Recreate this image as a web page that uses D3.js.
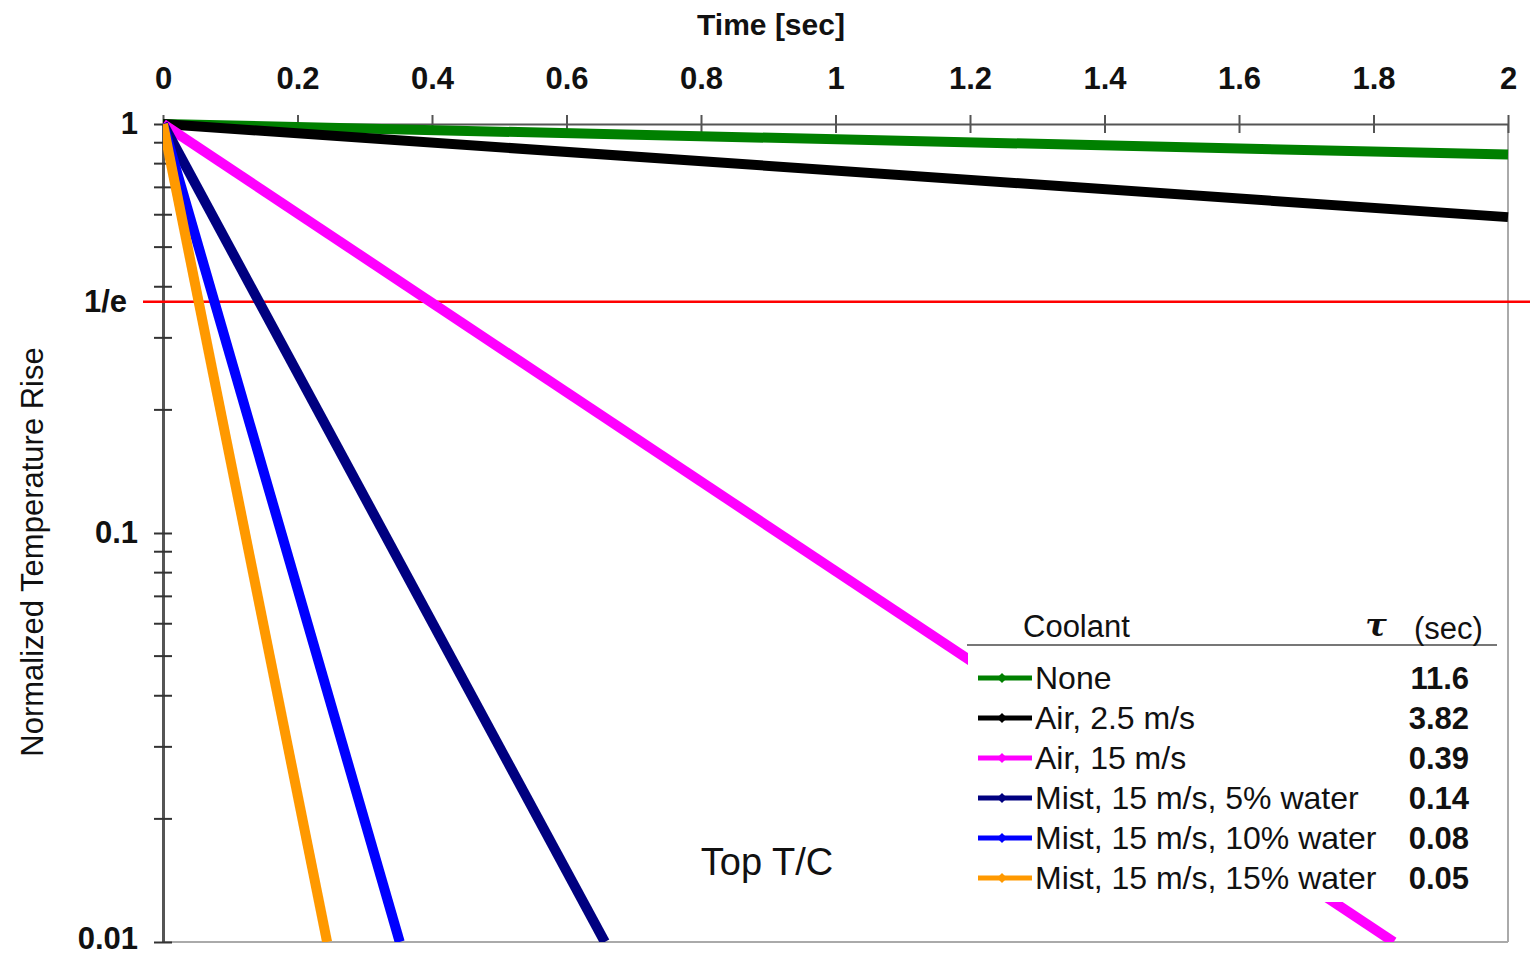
<!DOCTYPE html>
<html>
<head>
<meta charset="utf-8">
<script src="https://cdn.jsdelivr.net/npm/d3@7"></script>
<style>
  body { margin: 0; background: #fff; }
  text { font-family: Arial, "Liberation Sans", sans-serif; }
</style>
</head>
<body>
<script>
// coolant names, time constants and line endpoints
const coolants = ["None", "Air, 2.5 m/s", "Air, 15 m/s", "Mist, 15 m/s, 5% water", "Mist, 15 m/s, 10% water", "Mist, 15 m/s, 15% water"]
const tauLabels = ["11.6", "3.82", "0.39", "0.14", "0.08", "0.05"]
const colors = ["#008000", "#000000", "#ff00ff", "#000080", "#0000ff", "#ff9900"]
const endTimes = [2, 2, 1.83, 0.657, 0.352, 0.244]
const endValues = [0.842, 0.592, 0.01, 0.01, 0.01, 0.01]
const xTicks = [0, 0.2, 0.4, 0.6, 0.8, 1, 1.2, 1.4, 1.6, 1.8, 2]
const yMajor = [1, 0.1, 0.01]
const invE = 1 / Math.E

const width = 1530, height = 955
const plotL = 163, plotR = 1508, plotT = 124, plotB = 942

const svg = d3.select("body").append("svg")
    .attr("width", width)
    .attr("height", height)

const x = d3.scaleLinear().domain([0, 2]).range([plotL, plotR])
const y = d3.scaleLog().domain([0.01, 1]).range([plotB, plotT])

// light frame on right and bottom
svg.append("line")
    .attr("x1", plotR).attr("x2", plotR).attr("y1", plotT).attr("y2", plotB)
    .attr("stroke", "#aaa").attr("stroke-width", 2)
svg.append("line")
    .attr("x1", plotL).attr("x2", plotR).attr("y1", plotB).attr("y2", plotB)
    .attr("stroke", "#aaa").attr("stroke-width", 2)

// minor log ticks
let minor = []
for (let d = 0.01; d < 1; d *= 10) {
    for (let k = 2; k <= 9; k++) minor.push(d * k)
}

const xAxis = svg.append("g")
    .attr("transform", `translate(0,${plotT})`)
    .call(d3.axisTop(x).tickValues(xTicks).tickSize(0).tickFormat(d3.format("")))
xAxis.select(".domain").attr("stroke", "#555").attr("stroke-width", 2)
xAxis.selectAll(".tick text")
    .attr("y", -46).attr("dy", "0.35em")
    .style("font-size", "31px").style("font-weight", "bold").attr("fill", "#111")
xAxis.selectAll(".tick").append("line")
    .attr("y1", -9).attr("y2", 9).attr("stroke", "#555").attr("stroke-width", 2)

const yAxis = svg.append("g")
    .attr("transform", `translate(${plotL},0)`)
    .call(d3.axisLeft(y).tickValues(yMajor).tickSize(0).tickFormat(d => d === 1 ? "1" : d3.format("")(d)))
yAxis.select(".domain").attr("stroke", "#555").attr("stroke-width", 3)
yAxis.selectAll(".tick text")
    .attr("x", -25)
    .attr("dy", d => d === 0.01 ? "0.2em" : "0.32em")
    .style("font-size", "31px").style("font-weight", "bold").attr("fill", "#111")
yAxis.selectAll(".tick").append("line")
    .attr("x1", -9).attr("x2", 9).attr("stroke", "#333").attr("stroke-width", 2)
yAxis.selectAll(".minor")
    .data(minor)
    .enter()
    .append("line")
    .attr("x1", -9).attr("x2", 9)
    .attr("y1", d => y(d)).attr("y2", d => y(d))
    .attr("stroke", "#333").attr("stroke-width", 2)

svg.append("text")
    .attr("x", plotL - 36).attr("y", y(invE)).attr("dy", "0.35em")
    .attr("text-anchor", "end")
    .style("font-size", "31px").style("font-weight", "bold").attr("fill", "#111")
    .text("1/e")

// axis titles
svg.append("text")
    .attr("x", 771).attr("y", 35)
    .attr("text-anchor", "middle")
    .style("font-size", "30px").style("font-weight", "bold").attr("fill", "#111")
    .text("Time [sec]")
svg.append("text")
    .attr("transform", "translate(43,552) rotate(-90)")
    .attr("text-anchor", "middle")
    .style("font-size", "31px").attr("fill", "#111")
    .text("Normalized Temperature Rise")

// 1/e reference line
svg.append("line")
    .attr("x1", 143).attr("x2", width)
    .attr("y1", y(invE)).attr("y2", y(invE))
    .attr("stroke", "#ff0000").attr("stroke-width", 2.5)

// decay curves
const series = coolants.map((c, i) => ({
    name: c,
    color: colors[i],
    points: [[0, 1], [endTimes[i], endValues[i]]]
}))

const line = d3.line().x(d => x(d[0])).y(d => y(d[1]))

svg.append("clipPath").attr("id", "clip")
    .append("rect").attr("x", plotL).attr("y", plotT - 8).attr("width", plotR - plotL + 8).attr("height", plotB - plotT + 8)

svg.append("g")
    .attr("clip-path", "url(#clip)")
    .selectAll("path")
    .data(series)
    .enter()
    .append("path")
    .attr("d", d => line(d.points))
    .attr("fill", "none")
    .attr("stroke", d => d.color)
    .attr("stroke-width", 10)

svg.append("text")
    .attr("x", 767).attr("y", 875)
    .attr("text-anchor", "middle")
    .style("font-size", "38px").attr("fill", "#111")
    .text("Top T/C")

// legend table
const lg = svg.append("g")
lg.append("rect")
    .attr("x", 968).attr("y", 652).attr("width", 532).attr("height", 250)
    .attr("fill", "#fff")
lg.append("line")
    .attr("x1", 967).attr("x2", 1497).attr("y1", 645).attr("y2", 645)
    .attr("stroke", "#777").attr("stroke-width", 2)
lg.append("text")
    .attr("x", 1023).attr("y", 637)
    .style("font-size", "31px").attr("fill", "#111")
    .text("Coolant")
lg.append("text")
    .attr("x", 1376).attr("y", 636)
    .attr("text-anchor", "middle")
    .style("font-size", "32px").style("font-style", "italic").style("font-weight", "bold")
    .style("font-family", "'DejaVu Serif', serif").attr("fill", "#111")
    .text("τ")
lg.append("text")
    .attr("x", 1414).attr("y", 639)
    .style("font-size", "31px").attr("fill", "#111")
    .text("(sec)")

const rows = lg.selectAll(".row")
    .data(series)
    .enter()
    .append("g")
    .attr("transform", (d, i) => `translate(0,${678 + i * 40})`)
rows.append("line")
    .attr("x1", 978).attr("x2", 1032)
    .attr("stroke", d => d.color).attr("stroke-width", 5)
rows.append("path")
    .attr("d", "M1002,-5L1007,0L1002,5L997,0Z")
    .attr("fill", d => d.color)
rows.append("text")
    .attr("x", 1035).attr("dy", "0.35em")
    .style("font-size", "32px").attr("fill", "#111")
    .text(d => d.name)
rows.append("text")
    .attr("x", 1469).attr("dy", "0.35em")
    .attr("text-anchor", "end")
    .style("font-size", "31px").style("font-weight", "bold").attr("fill", "#111")
    .text((d, i) => tauLabels[i])
</script>
</body>
</html>
